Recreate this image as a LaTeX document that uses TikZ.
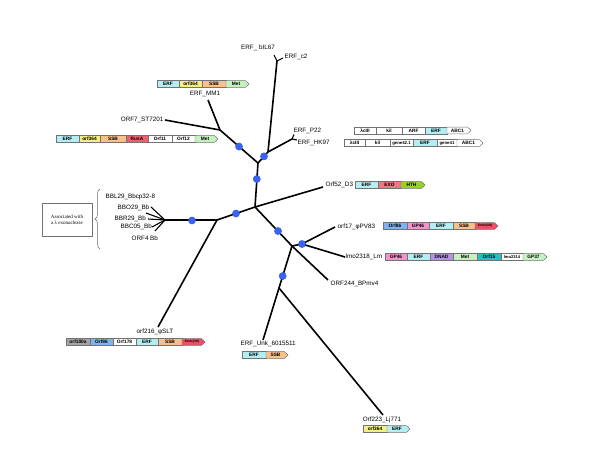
\documentclass[tikz,border=0pt]{standalone}
\usepackage{fontspec}
\setmainfont{Liberation Sans}
\newfontfamily\serifx{Liberation Serif}
\usetikzlibrary{decorations.pathreplacing}
\definecolor{cerf}{HTML}{B4EEF2}
\definecolor{corf}{HTML}{F4EE88}
\definecolor{cssb}{HTML}{F8C08C}
\definecolor{cmet}{HTML}{C6F0C0}
\definecolor{crus}{HTML}{EE6070}
\definecolor{cexo}{HTML}{F07684}
\definecolor{chth}{HTML}{94D224}
\definecolor{c86}{HTML}{80B2F2}
\definecolor{cgp}{HTML}{F294CC}
\definecolor{cendo}{HTML}{E85262}
\definecolor{cdna}{HTML}{B494E2}
\definecolor{c15}{HTML}{22C2C2}
\definecolor{cgp37}{HTML}{C4F2C4}
\definecolor{cgray}{HTML}{A4A4A4}
\definecolor{cdot}{HTML}{3A64F0}
\tikzset{
  br/.style={line width=1.6pt, black},
  fk/.style={line width=1.1pt, black},
  dot/.style={circle, fill=cdot, inner sep=0pt, minimum size=7.5pt},
  lab/.style={inner sep=0.5pt, font=\fontsize{6.3}{7}\selectfont},
  gbd/.style={draw=black!55, line width=0.45pt},
  gtx/.style={inner sep=0pt, font=\fontsize{4.8}{5}\selectfont\bfseries},
}
\newcommand{\gbox}[6]{%
  \draw[gbd,fill=#5] (#3,#2-3.4) rectangle (#4,#2+3.4);
  \node[gtx] (#1) at ({(#3+#4)/2},#2) {#6};}
\newcommand{\garr}[6]{%
  \draw[gbd,fill=#5] (#3,#2-3.4) -- (#4-3.5,#2-3.4) -- (#4,#2) -- (#4-3.5,#2+3.4) -- (#3,#2+3.4) -- cycle;
  \node[gtx] (#1) at ({(#3+#4-3)/2},#2) {#6};}
\begin{document}
\begin{tikzpicture}[x=1pt,y=-1pt]
\path[use as bounding box, fill=white] (0,0) rectangle (600,463);

% ---- tree coordinates ----
\coordinate (C) at (255,207);
\coordinate (U) at (258,163);
\coordinate (M) at (220,130);
\coordinate (N) at (268,152);
\coordinate (P) at (292,139);
\coordinate (B) at (277,61);
\coordinate (e7) at (165,120);
\coordinate (emm) at (208,100);
\coordinate (b1) at (274,55);
\coordinate (b2) at (283,58);
\coordinate (p1) at (294,134.5);
\coordinate (p2) at (297,140);
\coordinate (e52) at (323,187);
\coordinate (L) at (217,220);
\coordinate (BF) at (165,220);
\coordinate (q1) at (151,207);
\coordinate (q2) at (146,213);
\coordinate (q3) at (148,219);
\coordinate (q4) at (152,227);
\coordinate (q5) at (155,231);
\coordinate (e216) at (158,327);
\coordinate (J) at (292,246);
\coordinate (e17) at (335,227);
\coordinate (elmo) at (345,257);
\coordinate (e244) at (328,280);
\coordinate (D) at (279,288);
\coordinate (eunk) at (263,340);
\coordinate (e223) at (383,415);

% ---- dots (named) ----
\node[dot] (d1) at (256.8,179) {};
\node[dot] (d2) at (239,146.5) {};
\node[dot] (d3) at (264,156.4) {};
\node[dot] (d4) at (236,213.5) {};
\node[dot] (d5) at (192,220.5) {};
\node[dot] (d6) at (278,231) {};
\node[dot] (K) at (302,244) {};
\node[dot] (d8) at (282.7,276) {};

% ---- branches ----
\draw[br] (C) -- (U);
\draw[br] (U) -- (M);
\draw[br] (M) -- (e7);
\draw[br] (M) -- (emm);
\draw[br] (U) -- (N);
\draw[br] (N) -- (P);
\draw[br] (N) -- (B);
\draw[fk] (P) -- (p1);
\draw[fk] (P) -- (p2);
\draw[fk] (B) -- (b1);
\draw[fk] (B) -- (b2);
\draw[br] (C) -- (e52);
\draw[br] (C) -- (L);
\draw[br] (L) -- (BF);
\draw[br] (L) -- (e216);
\draw[fk] (BF) -- (q1);
\draw[fk] (BF) -- (q2);
\draw[fk] (BF) -- (q3);
\draw[fk] (BF) -- (q4);
\draw[fk] (BF) -- (q5);
\draw[br] (C) -- (J);
\draw[br] (J) -- (K.center);
\draw[br] (K.center) -- (e17);
\draw[br] (K.center) -- (elmo);
\draw[br] (J) -- (e244);
\draw[br] (J) -- (D);
\draw[br] (D) -- (eunk);
\draw[br] (D) -- (e223);
% dots on top of the branches
\foreach \n in {d1,d2,d3,d4,d5,d6,K,d8} {\fill[cdot] (\n.center) circle (3.75pt);}

% ---- labels ----
\node[lab] (lbil) at (258,48) {ERF\_ bIL67};
\node[lab, anchor=west] (lc2) at (284,57) {ERF\_c2};
\node[lab] (lmm) at (205,94) {ERF\_MM1};
\node[lab, anchor=east] (l7) at (164,120) {ORF7\_ST7201};
\node[lab, anchor=west] (lp22) at (293,131) {ERF\_P22};
\node[lab, anchor=west] (lhk) at (297,143) {ERF\_HK97};
\node[lab, anchor=west] (l52) at (325,185) {Orf52\_D3};
\node[lab, anchor=west] (l17) at (337,227) {orf17\_φPV83};
\node[lab, anchor=west] (llmo) at (345,257) {lmo2318\_Lm};
\node[lab, anchor=west] (l244) at (330,284) {ORF244\_BPmv4};
\node[lab, anchor=west] (lunk) at (240,344) {ERF\_Unk\_6015511};
\node[lab] (l223) at (382,420) {Orf223\_Lj771};
\node[lab] (l216) at (155,332) {orf216\_φSLT};
\node[lab, anchor=west] (lbb1) at (105,197) {BBL29\_Bbcp32-8};
\node[lab, anchor=west] (lbb2) at (117,208) {BBO29\_Bb};
\node[lab, anchor=west] (lbb3) at (114,219) {BBR29\_Bb};
\node[lab, anchor=west] (lbb4) at (120,227) {BBC05\_Bb};
\node[lab, anchor=west] (lbb5) at (131,238) {ORF4 Bb};

% ---- annotation box and brace ----
\node[draw=black!55, line width=0.5pt, minimum width=50pt, minimum height=33pt, align=center, inner sep=1pt,
      font=\serifx\fontsize{5}{6.2}\selectfont] (assoc) at (67,219.5) {Associated with\\a λ exonuclease};
\draw[black!60, line width=0.5pt, decorate, decoration={brace, amplitude=5pt}] (100,249) -- (100,189);

% ---- gene maps ----
% MM1
\gbox{m1}{84}{157}{179}{cerf}{ERF}
\gbox{m2}{84}{179}{202}{corf}{orf364}
\gbox{m3}{84}{202}{226}{cssb}{SSB}
\garr{m4}{84}{226}{249}{cmet}{Met}
% ORF7
\gbox{s1}{139}{56}{79}{cerf}{ERF}
\gbox{s2}{139}{79}{100}{corf}{orf364}
\gbox{s3}{139}{100}{126}{cssb}{SSB}
\gbox{s4}{139}{126}{148}{crus}{RusA}
\gbox{s5}{139}{148}{172}{white}{Orf11}
\gbox{s6}{139}{172}{195}{white}{Orf12}
\garr{s7}{139}{195}{218}{cmet}{Met}
% row A (lambda)
\gbox{a1}{130.5}{354}{376}{white}{λcIII}
\gbox{a2}{130.5}{376}{402}{white}{kil}
\gbox{a3}{130.5}{402}{425}{white}{ARF}
\gbox{a4}{130.5}{425}{447}{cerf}{ERF}
\garr{a5}{130.5}{447}{471}{white}{ABC1}
% row B
\gbox{b1n}{143}{344}{365}{white}{λcIII}
\gbox{b2n}{143}{365}{390}{white}{kil}
\gbox{b3n}{143}{390}{413}{white}{\fontsize{4.3}{5}\selectfont gene42.1}
\gbox{b4n}{143}{413}{437}{cerf}{ERF}
\gbox{b5n}{143}{437}{457}{white}{\fontsize{4.3}{5}\selectfont gene41}
\garr{b6n}{143}{457}{483}{white}{ABC1}
% D3
\gbox{c1}{185}{355}{378}{cerf}{ERF}
\gbox{c2}{185}{378}{401}{cexo}{EXO}
\garr{c3}{185}{401}{425}{chth}{HTH}
% orf17
\gbox{f1}{226}{383}{407}{c86}{Orf86}
\gbox{f2}{226}{407}{429}{cgp}{GP46}
\gbox{f3}{226}{429}{453}{cerf}{ERF}
\gbox{f4}{226}{453}{475}{cssb}{SSB}
\garr{f5}{226}{475}{498}{cendo}{\fontsize{3.3}{3.5}\selectfont Endo(VII)}
% lmo
\gbox{g1}{257}{385}{407}{cgp}{GP46}
\gbox{g2}{257}{407}{430}{cerf}{ERF}
\gbox{g3}{257}{430}{453}{cdna}{DNAD}
\gbox{g4}{257}{453}{477}{cmet}{Met}
\gbox{g5}{257}{477}{501}{c15}{Orf15}
\gbox{g6}{257}{501}{523}{white}{\fontsize{4.1}{4.5}\selectfont lmo2314}
\garr{g7}{257}{523}{547}{cgp37}{GP37}
% orf216
\gbox{h1}{342}{66}{90}{cgray}{orf100a}
\gbox{h2}{342}{90}{113}{c86}{Orf86}
\gbox{h3}{342}{113}{136}{white}{Orf178}
\gbox{h4}{342}{136}{158}{cerf}{ERF}
\gbox{h5}{342}{158}{182}{cssb}{SSB}
\garr{h6}{342}{182}{205}{cendo}{\fontsize{3.3}{3.5}\selectfont Endo(VII)}
% Unk
\gbox{u1}{355}{242}{266}{cerf}{ERF}
\garr{u2}{355}{266}{288}{cssb}{SSB}
% Orf223
\gbox{o1}{429}{363}{387}{corf}{orf364}
\garr{o2}{429}{387}{410}{cerf}{ERF}
\end{tikzpicture}
\end{document}
